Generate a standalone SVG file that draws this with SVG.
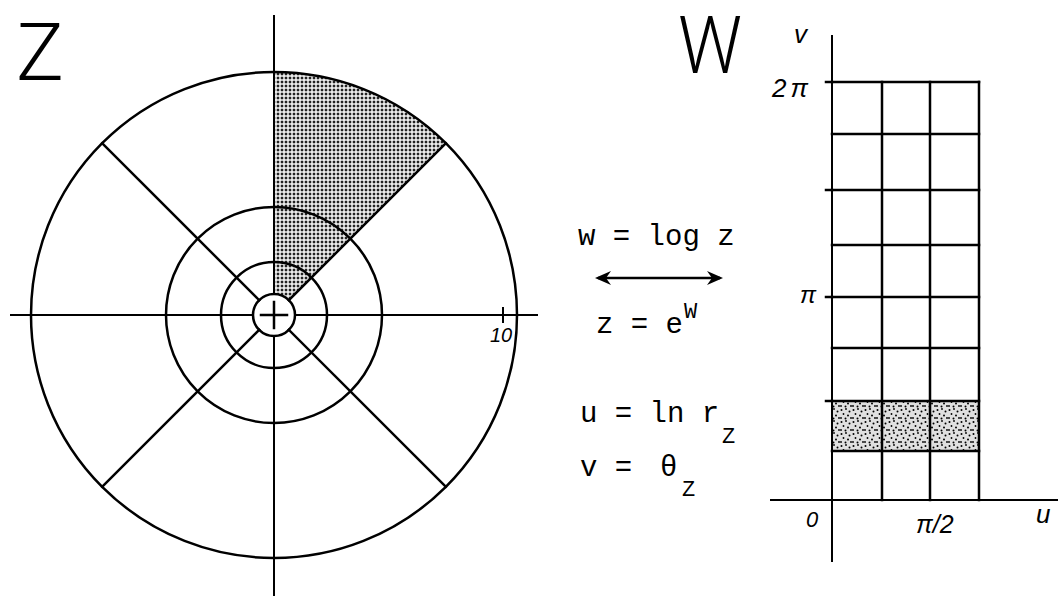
<svg xmlns="http://www.w3.org/2000/svg" width="1058" height="596" viewBox="0 0 1058 596">
<style>
.ln{stroke:#000;stroke-width:2.5;fill:none;stroke-linecap:square}
.ax{stroke:#000;stroke-width:2;fill:none}
.big{font-family:Roboto,"Liberation Sans",sans-serif;font-weight:300;font-size:80px;fill:#000}
.eq{font-family:"Liberation Mono","DejaVu Sans Mono",monospace;font-size:29px;fill:#000}
.sub{font-family:"Liberation Mono","DejaVu Sans Mono",monospace;font-size:22px;fill:#000}
.lab{font-family:"Liberation Sans",Arial,sans-serif;font-style:italic;fill:#000}
</style>
<defs>
<pattern id="grid" width="4" height="4" patternUnits="userSpaceOnUse">
<rect width="4" height="4" fill="#fff"/>
<rect x="0.7" y="0.7" width="2.6" height="2.6" fill="#222"/>
</pattern>
<pattern id="stip" width="12" height="12" patternUnits="userSpaceOnUse">
<rect width="12" height="12" fill="#e0e0e0"/>
<circle cx="1.5" cy="2" r="1" fill="#000"/>
<circle cx="6" cy="1" r="0.9" fill="#000"/>
<circle cx="9.5" cy="3.5" r="1" fill="#000"/>
<circle cx="3.5" cy="6" r="0.9" fill="#000"/>
<circle cx="8" cy="7.5" r="1" fill="#000"/>
<circle cx="11" cy="10" r="0.9" fill="#000"/>
<circle cx="1" cy="10" r="0.9" fill="#000"/>
<circle cx="5.5" cy="10.5" r="1" fill="#000"/>
</pattern>
<marker id="ah" viewBox="0 0 16 14" refX="13" refY="7" markerWidth="16" markerHeight="14" markerUnits="userSpaceOnUse" orient="auto-start-reverse">
<path d="M0 0 L16 7 L0 14 L5 7 Z" fill="#000"/>
</marker>
</defs>

<g id="z-plane">
<path d="M274 294 L274 72 A243 243 0 0 1 445.8 143.2 L288.8 300.2 A21 21 0 0 0 274 294 Z" fill="url(#grid)" stroke="none"/>
<circle class="ln" cx="274" cy="315" r="243"/>
<circle class="ln" cx="274" cy="315" r="108"/>
<circle class="ln" cx="274" cy="315" r="53"/>
<circle class="ln" cx="274" cy="315" r="21"/>
<line class="ln" x1="288.8" y1="300.2" x2="445.8" y2="143.2"/>
<line class="ln" x1="259.2" y1="300.2" x2="102.2" y2="143.2"/>
<line class="ln" x1="259.2" y1="329.8" x2="102.2" y2="486.8"/>
<line class="ln" x1="288.8" y1="329.8" x2="445.8" y2="486.8"/>
<line class="ax" x1="10" y1="315" x2="253" y2="315"/>
<line class="ax" x1="295" y1="315" x2="538" y2="315"/>
<line class="ax" x1="274" y1="15" x2="274" y2="294"/>
<line class="ax" x1="274" y1="336" x2="274" y2="596"/>
<line class="ln" x1="261" y1="315" x2="287" y2="315"/>
<line class="ln" x1="274" y1="302" x2="274" y2="328"/>
<line class="ax" x1="503" y1="307" x2="503" y2="323"/>
<text class="lab" x="490" y="342" font-size="20">10</text>
<text class="big" x="16" y="80">Z</text>
</g>

<g id="equations">
<text class="eq" x="578" y="245">w = log z</text>
<text class="eq" x="596" y="333">z = e</text>
<text class="sub" x="684" y="318">W</text>
<text class="eq" x="580" y="422">u = ln r</text>
<text class="sub" x="722" y="443">Z</text>
<text class="eq" x="580" y="476">v =</text>
<text class="eq" x="660" y="476">θ</text>
<text class="sub" x="682" y="496">Z</text>
</g>

<g id="connectors">
<line x1="598" y1="278" x2="720" y2="278" stroke="#000" stroke-width="2.5" marker-start="url(#ah)" marker-end="url(#ah)"/>
</g>

<g id="w-plane">
<rect x="832" y="401" width="147" height="50" fill="url(#stip)"/>
<line class="ax" x1="832" y1="35" x2="832" y2="562"/>
<line class="ax" x1="770" y1="500" x2="1058" y2="500" stroke-width="2.5"/>
<g class="ln">
<line x1="832" y1="82" x2="979" y2="82"/>
<line x1="832" y1="134" x2="979" y2="134"/>
<line x1="832" y1="190" x2="979" y2="190"/>
<line x1="832" y1="245" x2="979" y2="245"/>
<line x1="832" y1="297" x2="979" y2="297"/>
<line x1="832" y1="348" x2="979" y2="348"/>
<line x1="832" y1="401" x2="979" y2="401"/>
<line x1="832" y1="451" x2="979" y2="451"/>
<line x1="882" y1="82" x2="882" y2="500"/>
<line x1="930" y1="82" x2="930" y2="500"/>
<line x1="979" y1="82" x2="979" y2="500"/>
<line x1="826" y1="82" x2="832" y2="82"/>
<line x1="826" y1="190" x2="832" y2="190"/>
<line x1="826" y1="297" x2="832" y2="297"/>
<line x1="826" y1="401" x2="832" y2="401"/>
</g>
<text class="big" x="678" y="73" textLength="64" lengthAdjust="spacingAndGlyphs">W</text>
<text class="lab" x="794" y="43" font-size="26" font-style="normal">v</text>
<text class="lab" x="772" y="97" font-size="26" letter-spacing="4">2π</text>
<text class="lab" x="800" y="303" font-size="24">π</text>
<text class="lab" x="806" y="527" font-size="22">0</text>
<text class="lab" x="916" y="533" font-size="25">π/2</text>
<text class="lab" x="1036" y="523" font-size="26" font-style="normal">u</text>
</g>
</svg>
